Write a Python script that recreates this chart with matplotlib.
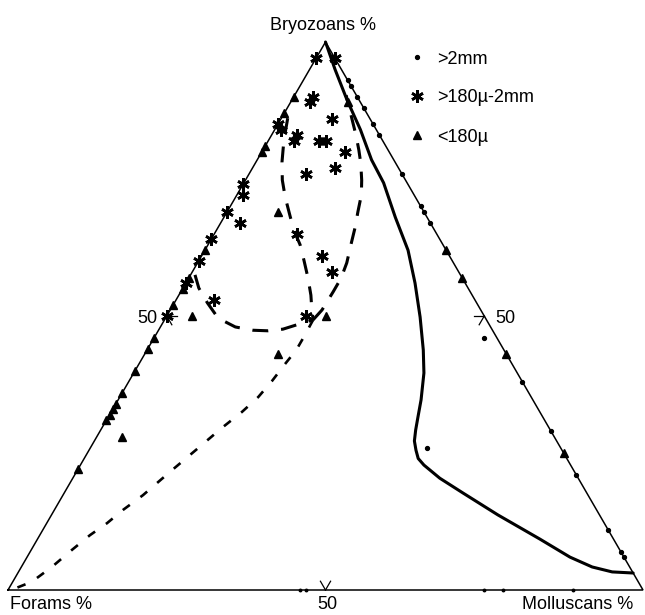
import numpy as np
import matplotlib
matplotlib.use("Agg")
import matplotlib.pyplot as plt

plt.rcParams['font.family'] = ['Liberation Sans', 'DejaVu Sans']

# ---- sample compositions (percent): bryozoans, forams, molluscans ----
# >2mm fraction
coarse_bryo = [93, 92, 90, 88, 85, 83, 76, 70, 69, 67, 38, 29, 21, 11, 7, 6,
               46, 26, 85, 74]
coarse_foram = [0, 0, 0, 0, 0, 0, 0, 0, 0, 0, 0, 0, 0, 0, 0, 0,
                2, 21, 15, 26]
coarse_moll = [7, 8, 10, 12, 15, 17, 24, 30, 31, 33, 62, 71, 79, 89, 93, 94,
               52, 53, 0, 0]

# >2mm samples with no bryozoans (sitting on the base line)
base_bryo = [0, 0, 0, 0, 0]
base_foram = [54, 53, 25, 22, 11]
base_moll = [46, 47, 75, 78, 89]

# >180u-2mm fraction
medium_bryo = [97, 97, 90, 89, 86, 84, 85, 83, 82, 82, 82, 80, 77, 76, 65, 61,
               58, 53, 50, 72, 67, 74, 69, 64, 60, 56, 50]
medium_foram = [3, 0, 7, 8, 6, 15, 15, 13, 14, 10, 9, 7, 10, 15, 22, 20,
                20, 41, 28, 27, 30, 26, 31, 36, 40, 44, 50]
medium_moll = [0, 3, 3, 3, 8, 1, 0, 4, 4, 8, 9, 13, 13, 9, 13, 19,
               22, 6, 22, 1, 3, 0, 0, 0, 0, 0, 0]

# <180u fraction
fine_bryo = [90, 87, 81, 80, 62, 57, 55, 52, 46, 44, 40, 36, 34, 33, 32, 31, 22,
             62, 57, 43, 25, 89, 69, 50, 50, 43, 28]
fine_foram = [10, 13, 19, 20, 38, 43, 45, 48, 54, 56, 60, 64, 66, 67, 68, 69, 78,
              0, 0, 0, 0, 2, 23, 46, 25, 36, 68]
fine_moll = [0, 0, 0, 0, 0, 0, 0, 0, 0, 0, 0, 0, 0, 0, 0, 0, 0,
             38, 43, 57, 75, 9, 8, 4, 25, 21, 4]

# ---- boundary curves (bryozoans %, molluscans %; forams make up the rest) ----
solid_bryo = [100, 95, 89.4, 84, 78.5, 74.3, 68, 62, 56, 49.8, 43.8, 39.6, 34.7,
              31.5, 29.2, 27.2, 25.5, 24.0, 22.8, 20.4, 17.7, 13.7, 9.3, 6.0,
              4.2, 3.3, 3.1]
solid_moll = [0, 4, 8.7, 13.5, 18, 22, 27, 32, 36.1, 40, 43.5, 45.7, 47.7,
              48.8, 49.6, 50.4, 51.5, 52.6, 54.1, 57.8, 62.8, 70.3, 79.1, 85.5,
              89.9, 93.5, 96.9]

loop_left_bryo = [86.1, 82.1, 78.1, 74.8, 71.7, 68.1, 65.3, 63.0, 60.2, 56.9, 53.8, 51.1, 49.3]
loop_left_moll = [1.0, 2.4, 4.1, 5.8, 7.8, 10.4, 12.5, 14.5, 16.5, 18.8, 20.8, 22.3, 23.4]

loop_right_bryo = [49.3, 51.1, 54.4, 56.9, 59.7, 63.0, 66.1, 69.0, 72.1, 74.8, 77.9, 80.3, 83.0, 85.8, 90.3]
loop_right_moll = [23.4, 23.9, 24.0, 24.0, 23.5, 22.5, 21.6, 20.6, 19.6, 18.3, 16.6, 15.1, 13.3, 11.3, 8.1]

hook_bryo = [57.5, 55.1, 52.4, 49.6, 48.0, 47.4, 47.3, 47.6, 48.4, 49.3]
hook_moll = [0.7, 2.5, 5.2, 8.3, 11.8, 14.9, 17.3, 19.5, 21.3, 23.4]

lower_bryo = [49.3, 46.5, 43.8, 41.2, 38.1, 35.2, 32.5, 29.6, 25.9, 21.5, 17.3,
              14.6, 12.2, 10.0, 7.3, 4.2, 1.5, 0.0]
lower_moll = [23.4, 23.5, 23.5, 23.0, 22.5, 21.8, 20.6, 18.9, 17.0, 14.7, 12.6,
              10.8, 9.5, 7.9, 6.4, 4.8, 3.0, 0.5]

SQ3 = np.sqrt(3) / 2


def tern_xy(bryo, moll, foram=None):
    b = np.asarray(bryo, float)
    m = np.asarray(moll, float)
    if foram is not None:
        tot = b + m + np.asarray(foram, float)
        b = b / tot * 100
        m = m / tot * 100
    return m + b / 2, b * SQ3


W, H = 645, 615
fig = plt.figure(figsize=(W / 100, H / 100), dpi=100)
ax = fig.add_axes([0, 0, 1, 1])
sx, sy = 6.35, 548 / (100 * SQ3)
ax.set_xlim(-8 / sx, (W - 8) / sx)
ax.set_ylim((590 - H) / sy, 590 / sy)
ax.axis('off')

# triangle frame
fx, fy = tern_xy([0, 0, 100, 0], [0, 100, 0, 0])
ax.plot(fx, fy, color='black', lw=1.1, solid_joinstyle='miter', zorder=2)

# 50% ticks: short segments along the two grid directions into the triangle
tl = 1.6
def tick(b, m, dirs):
    x0, y0 = tern_xy([b], [m])
    for ang in dirs:
        a = np.deg2rad(ang)
        ax.plot([x0[0], x0[0] + tl * np.cos(a)], [y0[0], y0[0] + tl * np.sin(a)],
                color='black', lw=0.9, zorder=2)

tick(0, 50, [60, 120])      # bottom edge
tick(50, 50, [180, 240])    # right edge
tick(50, 0, [0, -60])       # left edge

# curves
lx, ly = tern_xy(solid_bryo, solid_moll)
ax.plot(lx, ly, color='black', lw=2.2, solid_capstyle='round',
        solid_joinstyle='round', zorder=3)

for bb, mm in [(loop_left_bryo, loop_left_moll), (loop_right_bryo, loop_right_moll),
               (hook_bryo, hook_moll)]:
    cx, cy = tern_xy(bb, mm)
    ax.plot(cx, cy, color='black', lw=2.2, dashes=(5.2, 4.2), zorder=3)

cx, cy = tern_xy(lower_bryo, lower_moll)
ax.plot(cx, cy, color='black', lw=1.9, dashes=(3.3, 5.0), zorder=3)

# sample points
star = (6, 2, 0)
px_, py_ = tern_xy(coarse_bryo, coarse_moll, coarse_foram)
ax.plot(px_, py_, ls='none', marker='o', ms=2.8, color='black', clip_on=False, zorder=4)
px_, py_ = tern_xy(base_bryo, base_moll, base_foram)
ax.plot(px_, py_, ls='none', marker='o', ms=1.8, color='black', clip_on=False, zorder=4)
px_, py_ = tern_xy(medium_bryo, medium_moll, medium_foram)
ax.plot(px_, py_, ls='none', marker=star, ms=9, mew=1.9, color='black', clip_on=False, zorder=4)
px_, py_ = tern_xy(fine_bryo, fine_moll, fine_foram)
ax.plot(px_, py_, ls='none', marker='^', ms=6, color='black', clip_on=False, zorder=4)

# overlay in pixel units for labels and key
ov = fig.add_axes([0, 0, 1, 1])
ov.set_xlim(0, W)
ov.set_ylim(H, 0)
ov.axis('off')
ov.patch.set_alpha(0)

fs = 13
ov.text(323, 29.5, 'Bryozoans %', ha='center', va='baseline', fontsize=fs)
ov.text(10, 609, 'Forams %', ha='left', va='baseline', fontsize=fs)
ov.text(522, 609, 'Molluscans %', ha='left', va='baseline', fontsize=fs)
ov.text(327, 609, '50', ha='center', va='baseline', fontsize=fs)
ov.text(157, 323, '50', ha='right', va='baseline', fontsize=fs)
ov.text(495, 323, '50', ha='left', va='baseline', fontsize=fs)

key = [('o', 2.8, 0, '>2mm', 57), (star, 9, 1.9, '>180\u00b5-2mm', 96), ('^', 6, 0, '<180\u00b5', 135)]
for mk, ms, mew, lab, yy in key:
    kw = dict(mew=mew) if mew else {}
    ov.plot([417], [yy], ls='none', marker=mk, ms=ms, color='black', **kw)
    ov.text(437, yy + 6.5, lab, ha='left', va='baseline', fontsize=fs)

fig.savefig('out.png', dpi=100)
